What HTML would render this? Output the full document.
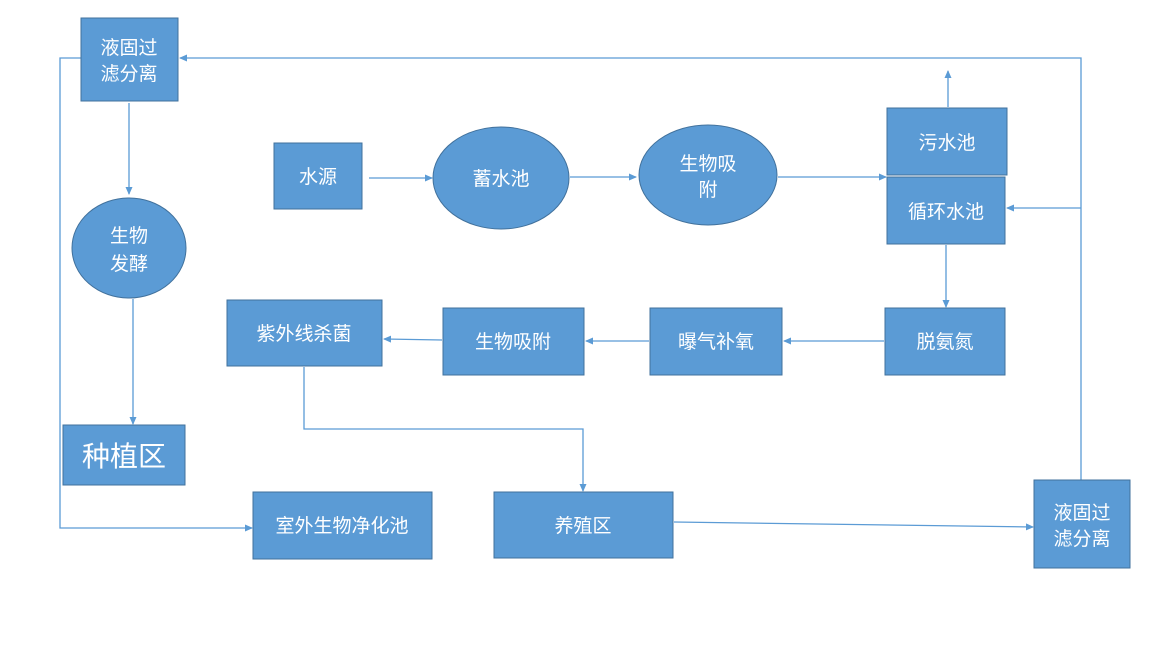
<!DOCTYPE html>
<html><head><meta charset="utf-8"><style>
html,body{margin:0;padding:0;background:#fff;}
svg text{font-family:"Liberation Sans","Noto Sans CJK SC",sans-serif;fill:#fff;font-size:19px;text-anchor:middle;}
</style></head><body>
<svg width="1157" height="650" viewBox="0 0 1157 650" xmlns="http://www.w3.org/2000/svg">
<defs><marker id="a" markerWidth="8" markerHeight="8" refX="7" refY="4" orient="auto" markerUnits="userSpaceOnUse"><path d="M0,0.5 L8,4 L0,7.5 Z" fill="#5b9bd5"/></marker></defs>
<g stroke="#5b9bd5" stroke-width="1.3" fill="none" marker-end="url(#a)">
<polyline points="1081,480 1081,58 180,58"/>
<polyline points="1081,208 1007,208"/>
<polyline points="81,58 60,58 60,528 252,528"/>
<polyline points="129,103 129,194"/>
<polyline points="133,299 133,424"/>
<polyline points="369,178 432,178"/>
<polyline points="570,177 636,177"/>
<polyline points="778,177 886,177"/>
<polyline points="948,107 948,71"/>
<polyline points="946,245 946,307"/>
<polyline points="884,341 784,341"/>
<polyline points="649,341 586,341"/>
<polyline points="442,340 384,339"/>
<polyline points="304,367 304,429 583,429 583,491"/>
<polyline points="674,522 1033,527"/>
</g>
<g fill="#5b9bd5" stroke="#41719c" stroke-width="1">
<rect x="81" y="18" width="97" height="83"/>
<ellipse cx="129" cy="248" rx="57" ry="50"/>
<rect x="63" y="425" width="122" height="60"/>
<rect x="253" y="492" width="179" height="67"/>
<rect x="274" y="143" width="88" height="66"/>
<ellipse cx="501" cy="178" rx="68" ry="51"/>
<ellipse cx="708" cy="175" rx="69" ry="50"/>
<rect x="887" y="108" width="120" height="67"/>
<rect x="887" y="177" width="118" height="67"/>
<rect x="885" y="308" width="120" height="67"/>
<rect x="650" y="308" width="132" height="67"/>
<rect x="443" y="308" width="141" height="67"/>
<rect x="227" y="300" width="155" height="66"/>
<rect x="494" y="492" width="179" height="66"/>
<rect x="1034" y="480" width="96" height="88"/>
</g>
<text x="129" y="54">液固过</text><text x="129" y="80">滤分离</text>
<text x="129" y="242">生物</text><text x="129" y="270">发酵</text>
<text x="124" y="466" style="font-size:28px">种植区</text>
<text x="342" y="532">室外生物净化池</text>
<text x="318" y="183">水源</text>
<text x="501" y="185">蓄水池</text>
<text x="708" y="170">生物吸</text><text x="708" y="196">附</text>
<text x="947" y="149">污水池</text>
<text x="946" y="218">循环水池</text>
<text x="945" y="348">脱氨氮</text>
<text x="716" y="348">曝气补氧</text>
<text x="513" y="348">生物吸附</text>
<text x="304" y="340">紫外线杀菌</text>
<text x="583" y="532">养殖区</text>
<text x="1082" y="519">液固过</text><text x="1082" y="545">滤分离</text>
</svg>
</body></html>
